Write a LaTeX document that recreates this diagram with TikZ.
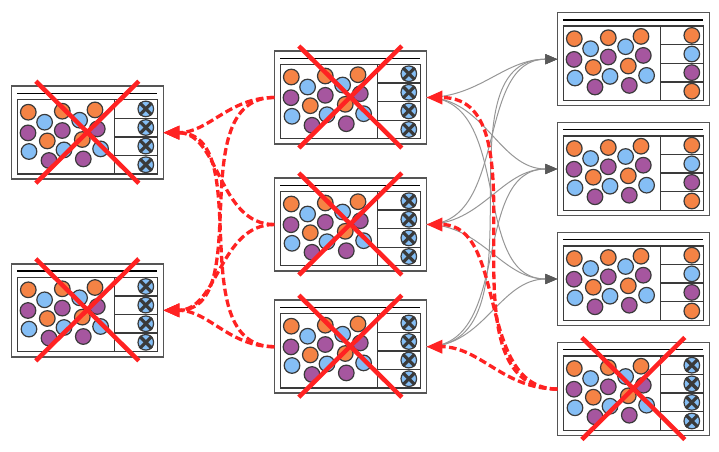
\documentclass[tikz,border=0pt]{standalone}
\usetikzlibrary{arrows.meta}
\definecolor{corange}{RGB}{245,131,69}
\definecolor{cblue}{RGB}{133,190,245}
\definecolor{cpurple}{RGB}{166,86,159}
\definecolor{cdark}{RGB}{58,58,58}
\definecolor{cframe}{RGB}{85,85,85}
\definecolor{cred}{RGB}{255,34,34}
\definecolor{clink}{RGB}{150,150,150}
\definecolor{carrow}{RGB}{90,90,90}
\tikzset{
  trayframe/.style={draw=cframe, line width=1.5pt, fill=white, rectangle,
    minimum width=152pt, minimum height=93pt, inner sep=0pt, outer sep=0pt},
  topline/.style={draw=black, line width=1.4pt},
  innerline/.style={draw=cdark, line width=1.4pt},
  ball/.style={draw=cdark, line width=1.2pt},
  ballx/.style={draw=cdark, line width=3.2pt},
  bigcross/.style={draw=cred, line width=4.5pt},
  graylink/.style={draw=clink, line width=1pt, -{Triangle[length=12pt,width=10pt,color=carrow]}},
  redlink/.style={draw=cred, line width=3.3pt, dash pattern=on 7.5pt off 3.5pt,
    -{Triangle[length=16pt,width=13pt]}},
}
% #1 name, #2 cx, #3 cy, #4 four right colours, #5 crossed (1/0)
\newcommand\trayunit[5]{%
  \node[trayframe] (#1) at (#2,#3) {};
  \begin{scope}[shift={(#1.north west)}]
    \draw[topline] (6,7.2) -- (146,7.2);
    \draw[innerline] (6,13.4) rectangle (146,87.7);
    \draw[innerline] (103,13.4) -- (103,87.7);
    \foreach \yy in {32,50.6,69.2} \draw[innerline] (103,\yy) -- (146,\yy);
    \foreach \p in {(17,26),(51,25),(83.7,23.7),(36,54.7),(71,53.3)}
      \path[ball, fill=corange] \p circle[radius=7.8];
    \foreach \p in {(33.3,36),(68.3,34),(17.7,65.3),(52.7,63.7),(89.3,62.7)}
      \path[ball, fill=cblue] \p circle[radius=7.8];
    \foreach \p in {(16.7,46.7),(51,44.3),(86,42.7),(37.7,74.3),(72,72.7)}
      \path[ball, fill=cpurple] \p circle[radius=7.8];
    \foreach \c [count=\i] in {#4}
      \path[ball, fill=\c] (134.5,{4.1+18.6*\i}) circle[radius=7.8];
    \ifnum#5=1
      \foreach \i in {1,2,3,4}{
        \draw[ballx] (128.5,{4.1+18.6*\i-6}) -- (140.5,{4.1+18.6*\i+6});
        \draw[ballx] (128.5,{4.1+18.6*\i+6}) -- (140.5,{4.1+18.6*\i-6});
      }
      \draw[bigcross] (24.5,-5) -- (127.5,97);
      \draw[bigcross] (24.5,97) -- (127.5,-5);
    \fi
  \end{scope}%
}
\begin{document}
\begin{tikzpicture}[x=1pt,y=-1pt]
  \useasboundingbox (0,0) rectangle (719,451);
  \trayunit{L1}{87.3}{132.7}{cblue,cblue,cblue,cblue}{1}
  \trayunit{L2}{87.3}{310.3}{cblue,cblue,cblue,cblue}{1}
  \trayunit{M1}{350.3}{97.5}{cblue,cblue,cblue,cblue}{1}
  \trayunit{M2}{350.3}{224.5}{cblue,cblue,cblue,cblue}{1}
  \trayunit{M3}{350.3}{346.7}{cblue,cblue,cblue,cblue}{1}
  \trayunit{R1}{633.3}{59.2}{corange,cblue,cpurple,corange}{0}
  \trayunit{R2}{633.3}{169}{corange,cblue,cpurple,corange}{0}
  \trayunit{R3}{633.3}{279}{corange,cblue,cpurple,corange}{0}
  \trayunit{R4}{633.3}{389}{cblue,cblue,cblue,cblue}{1}
  % grey links middle -> right
  \foreach \m in {M1,M2,M3}
    \foreach \r in {R1,R2,R3}
      \draw[graylink] (\m.east) to[out=0,in=180] (\r.west);
  % red links R4 -> middle
  \foreach \m in {M1,M2,M3}
    \draw[redlink] (R4.west) to[out=180,in=0] (\m.east);
  % red links middle -> left
  \foreach \m in {M1,M2,M3}
    \foreach \l in {L1,L2}
      \draw[redlink] (\m.west) to[out=180,in=0] (\l.east);
\end{tikzpicture}
\end{document}
